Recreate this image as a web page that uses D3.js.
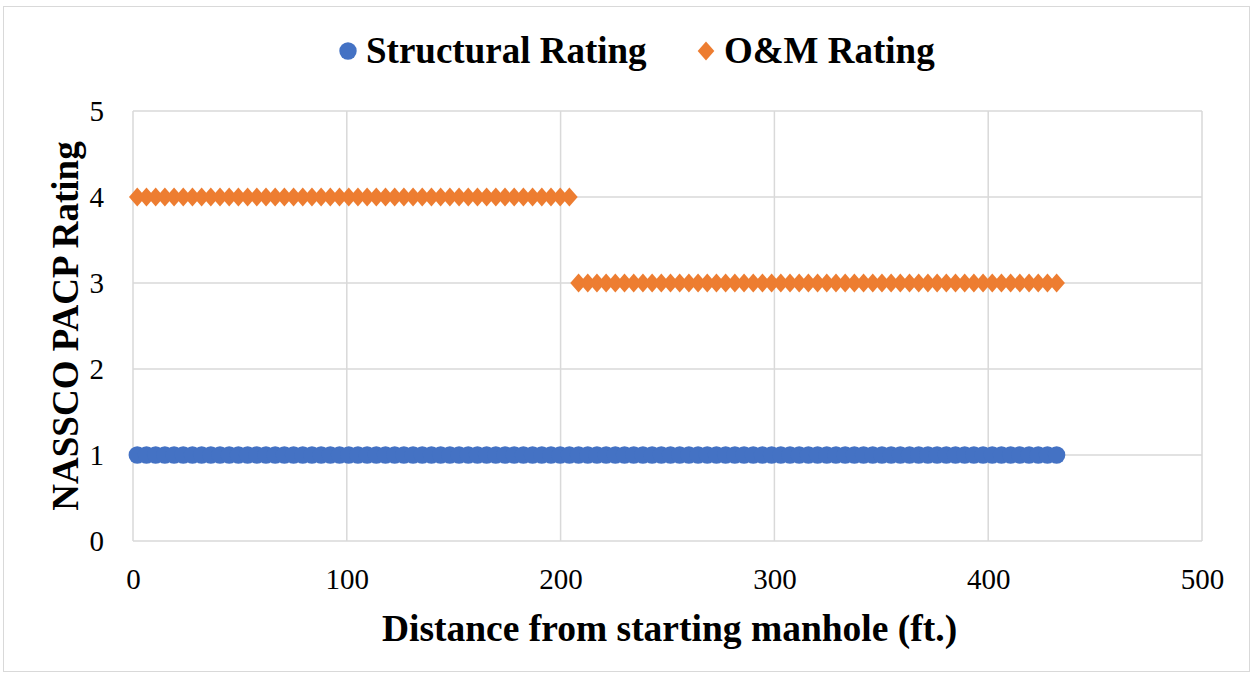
<!DOCTYPE html>
<html>
<head>
<meta charset="utf-8">
<script src="https://cdn.jsdelivr.net/npm/d3@7"></script>
<style>
  html, body { margin: 0; padding: 0; background: #fff; }
  svg { display: block; }
  text { font-family: "Liberation Serif", "Times New Roman", serif; fill: #000; }
</style>
</head>
<body>
<div id="chart"></div>
<script>
// Inspection distances along the pipe (ft.) and ratings at each point
const distance = [
  2.0, 6.3, 10.6, 14.9, 19.2, 23.5, 27.8, 32.1, 36.4, 40.7,
  45.0, 49.3, 53.6, 57.9, 62.2, 66.5, 70.8, 75.1, 79.4, 83.7,
  88.0, 92.3, 96.6, 100.9, 105.2, 109.5, 113.8, 118.1, 122.4, 126.7,
  131.0, 135.3, 139.6, 143.9, 148.2, 152.5, 156.8, 161.1, 165.4, 169.7,
  174.0, 178.3, 182.6, 186.9, 191.2, 195.5, 199.8, 204.1,
  208.4, 212.7, 217.0, 221.3, 225.6, 229.9, 234.2, 238.5, 242.8, 247.1,
  251.4, 255.7, 260.0, 264.3, 268.6, 272.9, 277.2, 281.5, 285.8, 290.1,
  294.4, 298.7, 303.0, 307.3, 311.6, 315.9, 320.2, 324.5, 328.8, 333.1,
  337.4, 341.7, 346.0, 350.3, 354.6, 358.9, 363.2, 367.5, 371.8, 376.1,
  380.4, 384.7, 389.0, 393.3, 397.6, 401.9, 406.2, 410.5, 414.8, 419.1,
  423.4, 427.7, 432.0
];
const structuralRating = [
  1,1,1,1,1,1,1,1,1,1, 1,1,1,1,1,1,1,1,1,1,
  1,1,1,1,1,1,1,1,1,1, 1,1,1,1,1,1,1,1,1,1,
  1,1,1,1,1,1,1,1,
  1,1,1,1,1,1,1,1,1,1, 1,1,1,1,1,1,1,1,1,1,
  1,1,1,1,1,1,1,1,1,1, 1,1,1,1,1,1,1,1,1,1,
  1,1,1,1,1,1,1,1,1,1, 1,1,1
];
const omRating = [
  4,4,4,4,4,4,4,4,4,4, 4,4,4,4,4,4,4,4,4,4,
  4,4,4,4,4,4,4,4,4,4, 4,4,4,4,4,4,4,4,4,4,
  4,4,4,4,4,4,4,4,
  3,3,3,3,3,3,3,3,3,3, 3,3,3,3,3,3,3,3,3,3,
  3,3,3,3,3,3,3,3,3,3, 3,3,3,3,3,3,3,3,3,3,
  3,3,3,3,3,3,3,3,3,3, 3,3,3
];
const xTicks = [0, 100, 200, 300, 400, 500];
const yTicks = [0, 1, 2, 3, 4, 5];
const seriesNames = ["Structural Rating", "O&M Rating"];
const seriesColors = ["#4472C4", "#ED7D31"];

const W = 1254, H = 677;
const plot = { left: 133, right: 1202, top: 111, bottom: 541 };
const serif = "'Liberation Serif', 'Times New Roman', serif";

const svg = d3.select("#chart").append("svg")
  .attr("width", W).attr("height", H);

svg.append("rect")
  .attr("x", 3.5).attr("y", 6.5)
  .attr("width", W - 8).attr("height", H - 12)
  .attr("fill", "#fff").attr("stroke", "#d9d9d9").attr("stroke-width", 1);

const x = d3.scaleLinear().domain([0, 500]).range([plot.left, plot.right]);
const y = d3.scaleLinear().domain([0, 5]).range([plot.bottom, plot.top]);

// Gridlines
const grid = svg.append("g");
grid.selectAll("line.v").data(xTicks).join("line")
  .attr("x1", d => x(d)).attr("x2", d => x(d))
  .attr("y1", plot.top).attr("y2", plot.bottom)
  .attr("stroke", "#d9d9d9").attr("stroke-width", 1.5);
grid.selectAll("line.h").data(yTicks).join("line")
  .attr("x1", plot.left).attr("x2", plot.right)
  .attr("y1", d => y(d)).attr("y2", d => y(d))
  .attr("stroke", "#d9d9d9").attr("stroke-width", 1.5);

// Axes (labels only; lines come from the grid)
const xAxis = svg.append("g")
  .attr("transform", `translate(0,${plot.bottom})`)
  .call(d3.axisBottom(x).tickValues(xTicks).tickFormat(d3.format("d")).tickSize(0).tickPadding(27))
  .attr("font-family", serif).attr("font-size", 29);
xAxis.select(".domain").remove();
xAxis.selectAll("text").attr("fill", "#000");

const yAxis = svg.append("g")
  .attr("transform", `translate(${plot.left},0)`)
  .call(d3.axisLeft(y).tickValues(yTicks).tickFormat(d3.format("d")).tickSize(0).tickPadding(29))
  .attr("font-family", serif).attr("font-size", 29);
yAxis.select(".domain").remove();
yAxis.selectAll("text").attr("fill", "#000");

// Markers
const rows = distance.map((d, i) => ({ d, s: structuralRating[i], o: omRating[i] }));
const diamond = "M0,-9.5L8.3,0L0,9.5L-8.3,0Z";

svg.append("g").selectAll("circle").data(rows).join("circle")
  .attr("cx", r => x(r.d)).attr("cy", r => y(r.s))
  .attr("r", 8.7).attr("fill", seriesColors[0]);

svg.append("g").selectAll("path").data(rows).join("path")
  .attr("d", diamond)
  .attr("transform", r => `translate(${x(r.d)},${y(r.o)})`)
  .attr("fill", seriesColors[1]);

// Axis titles
svg.append("text")
  .attr("x", (plot.left + plot.right) / 2 + 2).attr("y", 641)
  .attr("text-anchor", "middle")
  .attr("font-family", serif)
  .attr("font-size", 37.5).attr("font-weight", "bold")
  .text("Distance from starting manhole (ft.)");

svg.append("text")
  .attr("transform", `translate(78,${(plot.top + plot.bottom) / 2}) rotate(-90)`)
  .attr("text-anchor", "middle")
  .attr("font-family", serif)
  .attr("font-size", 37).attr("font-weight", "bold")
  .text("NASSCO PACP Rating");

// Legend
const legend = svg.append("g").attr("font-family", serif).attr("font-size", 37).attr("font-weight", "bold");
legend.append("circle").attr("cx", 348).attr("cy", 51).attr("r", 8.7).attr("fill", seriesColors[0]);
legend.append("text").attr("x", 366).attr("y", 63).text(seriesNames[0]);
legend.append("path").attr("d", diamond).attr("transform", "translate(706,51)").attr("fill", seriesColors[1]);
legend.append("text").attr("x", 724).attr("y", 63).text(seriesNames[1]);
</script>
</body>
</html>
